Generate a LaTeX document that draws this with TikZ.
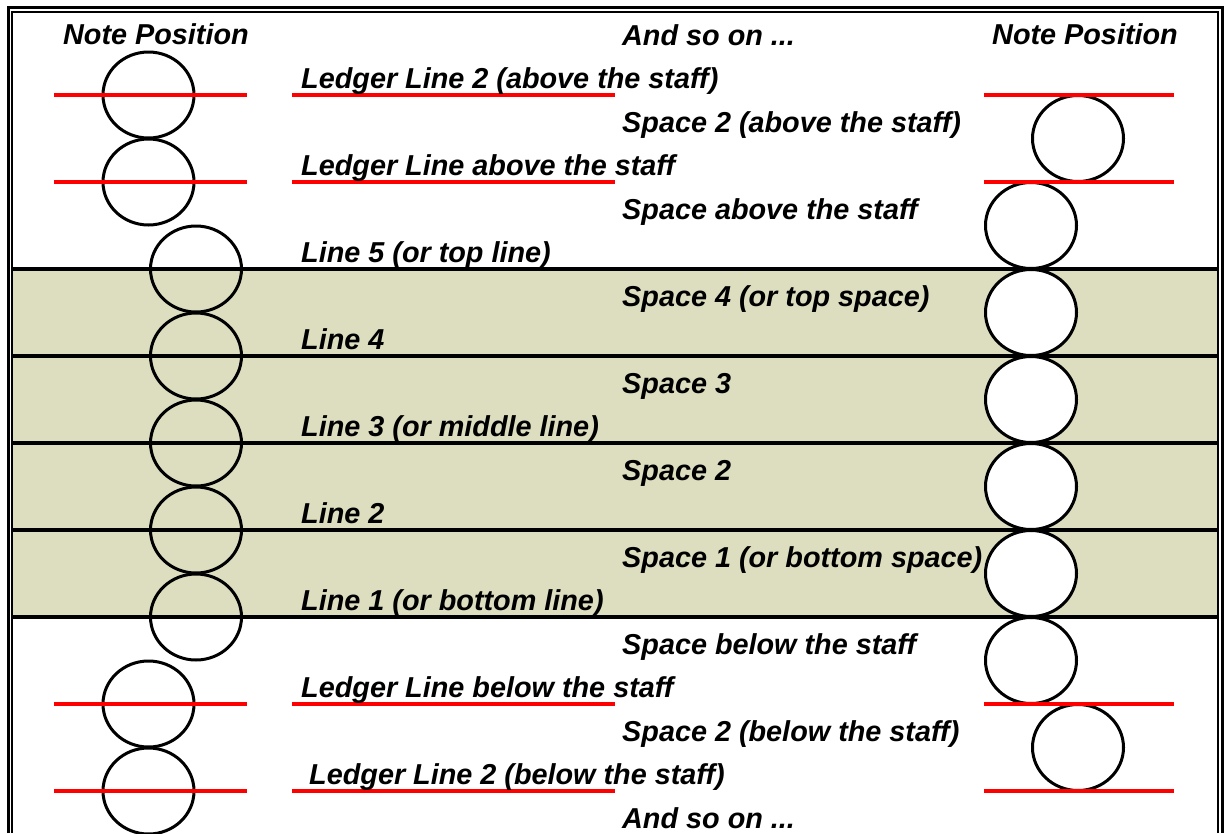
\documentclass[tikz,border=0pt]{standalone}
\usepackage{fontspec}
\setmainfont{Liberation Sans}
\definecolor{staffbg}{RGB}{221,221,192}
\definecolor{ledgerred}{RGB}{255,0,0}
\begin{document}
\begin{tikzpicture}[x=1pt,y=-1pt,
  lbl/.style={anchor=base west, inner sep=0pt, font=\fontsize{28.8}{34}\selectfont\bfseries\itshape},
  staffline/.style={line width=3.5pt, black},
  ledgerline/.style={line width=3.5pt, ledgerred},
  noteopen/.style={line width=3pt, black},
  notefill/.style={line width=3pt, black, fill=white},
  frameouter/.style={line width=3pt, black},
  frameinner/.style={line width=1.6pt, black}
]
\useasboundingbox (0,0) rectangle (1224,833);
% staff background
\fill[staffbg] (12,269) rectangle (1218,617);
% staff lines
\foreach \k in {5,7,9,11,13}{
  \draw[staffline] (12,{51.5+43.5*\k}) -- (1218,{51.5+43.5*\k});
}
% left column notes (on lines)
\foreach \k in {1,3,15,17}{
  \draw[noteopen] (148.5,{51.5+43.5*\k}) ellipse [x radius=45.5pt, y radius=43pt];
}
\foreach \k in {5,7,9,11,13}{
  \draw[noteopen] (196,{51.5+43.5*\k}) ellipse [x radius=45.5pt, y radius=43pt];
}
% right column notes (in spaces)
\foreach \k in {2,16}{
  \draw[notefill] (1078,{51.5+43.5*\k}) ellipse [x radius=45.5pt, y radius=43pt];
}
\foreach \k in {4,6,8,10,12,14}{
  \draw[notefill] (1031,{51.5+43.5*\k}) ellipse [x radius=45.5pt, y radius=43pt];
}
% ledger lines
\foreach \k in {1,3,15,17}{
  \draw[ledgerline] (54,{51.5+43.5*\k}) -- (247,{51.5+43.5*\k});
  \draw[ledgerline] (292,{51.5+43.5*\k}) -- (615,{51.5+43.5*\k});
  \draw[ledgerline] (984,{51.5+43.5*\k}) -- (1174,{51.5+43.5*\k});
}
% frame
\draw[frameouter] (8.5,833) -- (8.5,7.5) -- (1222,7.5) -- (1222,833);
\draw[frameinner] (12,833) -- (12,11.8) -- (1218,11.8) -- (1218,833);
% headings
\node[lbl] (hl) at (63,44.5) {Note Position};
\node[lbl] (hr) at (992,44.5) {Note Position};
% labels
\node[lbl] (t0) at (622,{51.5-6.5}) {And so on ...};
\node[lbl] (t1) at (301,{51.5+43.5*1-6.5}) {Ledger Line 2 (above the staff)};
\node[lbl] (t2) at (622,{51.5+43.5*2-6.5}) {Space 2 (above the staff)};
\node[lbl] (t3) at (301,{51.5+43.5*3-6.5}) {Ledger Line above the staff};
\node[lbl] (t4) at (622,{51.5+43.5*4-6.5}) {Space above the staff};
\node[lbl] (t5) at (301,{51.5+43.5*5-6.5}) {Line 5 (or top line)};
\node[lbl] (t6) at (622,{51.5+43.5*6-6.5}) {Space 4 (or top space)};
\node[lbl] (t7) at (301,{51.5+43.5*7-6.5}) {Line 4};
\node[lbl] (t8) at (622,{51.5+43.5*8-6.5}) {Space 3};
\node[lbl] (t9) at (301,{51.5+43.5*9-6.5}) {Line 3 (or middle line)};
\node[lbl] (t10) at (622,{51.5+43.5*10-6.5}) {Space 2};
\node[lbl] (t11) at (301,{51.5+43.5*11-6.5}) {Line 2};
\node[lbl] (t12) at (622,{51.5+43.5*12-6.5}) {Space 1 (or bottom space)};
\node[lbl] (t13) at (301,{51.5+43.5*13-6.5}) {Line 1 (or bottom line)};
\node[lbl] (t14) at (622,{51.5+43.5*14-6.5}) {Space below the staff};
\node[lbl] (t15) at (301,{51.5+43.5*15-6.5}) {Ledger Line below the staff};
\node[lbl] (t16) at (622,{51.5+43.5*16-6.5}) {Space 2 (below the staff)};
\node[lbl] (t17) at (309,{51.5+43.5*17-6.5}) {Ledger Line 2 (below the staff)};
\node[lbl] (t18) at (622,{51.5+43.5*18-6.5}) {And so on ...};
\end{tikzpicture}
\end{document}
